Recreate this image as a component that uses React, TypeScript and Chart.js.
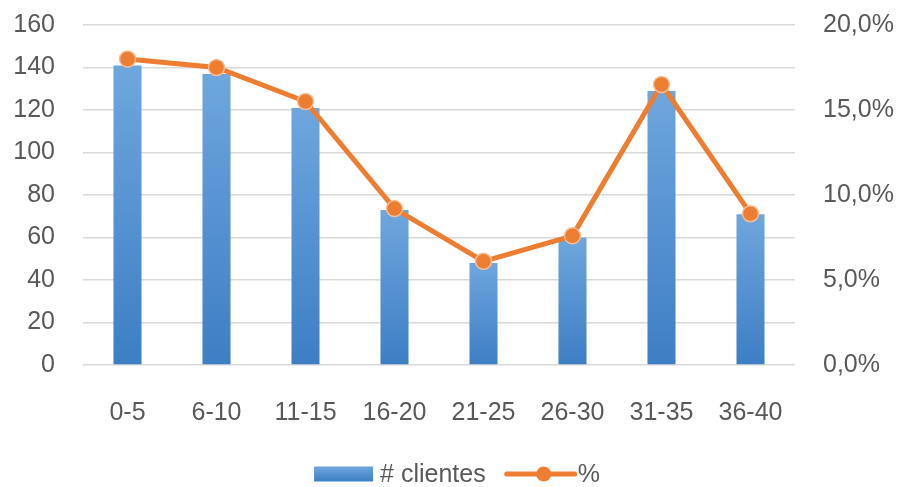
import React, { useEffect, useRef } from "react";
import { Chart, registerables } from "chart.js";

Chart.register(...registerables);

const categories = ["0-5", "6-10", "11-15", "16-20", "21-25", "26-30", "31-35", "36-40"];
const clientes = [141, 137, 121, 73, 48, 60, 129, 71];
const porcentaje = [18.0, 17.5, 15.5, 9.2, 6.1, 7.6, 16.5, 8.9];
const barLabel = "# clientes";
const lineLabel = "%";

const FONT = '"Liberation Sans", Arial, sans-serif';
const TEXT = "#595959";
const ORANGE = "#ED7D31";
const BLUE_TOP = "#6FA6DD";
const BLUE_BOTTOM = "#3D7EC4";
const FONT_SIZE = 25;

const legendPlugin = {
  id: "customLegend",
  afterDraw(chart: any) {
    const ctx = chart.ctx as CanvasRenderingContext2D;
    const area = chart.chartArea;
    ctx.save();
    ctx.font = `${FONT_SIZE}px ${FONT}`;
    const w1 = ctx.measureText(barLabel).width;
    const w2 = ctx.measureText(lineLabel).width;
    const boxW = 59, boxH = 15, lineW = 68;
    const total = boxW + 7 + w1 + 21 + lineW + 3 + w2;
    let x = (area.left + area.right) / 2 + 18 - total / 2;
    const y = chart.height - 13;
    const g = ctx.createLinearGradient(0, y - boxH / 2, 0, y + boxH / 2);
    g.addColorStop(0, BLUE_TOP);
    g.addColorStop(1, BLUE_BOTTOM);
    ctx.fillStyle = g;
    ctx.fillRect(x, y - boxH / 2, boxW, boxH);
    x += boxW + 7;
    ctx.fillStyle = TEXT;
    ctx.textBaseline = "middle";
    ctx.textAlign = "left";
    ctx.fillText(barLabel, x, y + 1);
    x += w1 + 21;
    ctx.strokeStyle = ORANGE;
    ctx.lineWidth = 5;
    ctx.lineCap = "round";
    ctx.beginPath();
    ctx.moveTo(x, y);
    ctx.lineTo(x + lineW, y);
    ctx.stroke();
    ctx.beginPath();
    ctx.arc(x + lineW / 2 + 3, y, 7.5, 0, Math.PI * 2);
    ctx.fillStyle = ORANGE;
    ctx.fill();
    x += lineW + 3;
    ctx.fillStyle = TEXT;
    ctx.fillText(lineLabel, x, y + 1);
    ctx.restore();
  },
};

export default function App() {
  const ref = useRef<HTMLCanvasElement | null>(null);

  useEffect(() => {
    document.body.style.margin = "0";
    if (!ref.current) return;
    const chart = new Chart(ref.current, {
      type: "bar",
      data: {
        labels: categories,
        datasets: [
          {
            type: "line",
            label: lineLabel,
            data: porcentaje,
            yAxisID: "y1",
            borderColor: ORANGE,
            borderWidth: 5,
            pointRadius: 8,
            pointBackgroundColor: ORANGE,
            pointBorderColor: "#F6BE98",
            pointBorderWidth: 1.5,
            tension: 0,
            order: 0,
          } as any,
          {
            type: "bar",
            label: barLabel,
            data: clientes,
            yAxisID: "y",
            backgroundColor: (c: any) => {
              const chart = c.chart;
              const area = chart.chartArea;
              if (!area || c.raw == null) return BLUE_BOTTOM;
              const top = chart.scales.y.getPixelForValue(c.raw);
              const g = chart.ctx.createLinearGradient(0, top, 0, area.bottom);
              g.addColorStop(0, BLUE_TOP);
              g.addColorStop(1, BLUE_BOTTOM);
              return g;
            },
            borderWidth: 0,
            categoryPercentage: 1,
            barPercentage: 0.315,
            order: 1,
          },
        ],
      },
      options: {
        responsive: false,
        animation: false,
        layout: { padding: { top: 25, bottom: 0, left: 0, right: 0 } },
        plugins: {
          legend: { display: false },
          tooltip: { enabled: false },
        },
        scales: {
          x: {
            grid: { display: false },
            border: { display: false },
            ticks: {
              color: TEXT,
              font: { family: FONT, size: FONT_SIZE },
              padding: 25,
              maxRotation: 0,
            },
            afterFit: (s: any) => {
              s.height = 122;
            },
          },
          y: {
            position: "left",
            min: 0,
            max: 160,
            grid: { color: "#D9D9D9", lineWidth: 1.5, drawTicks: false },
            border: { display: false },
            ticks: {
              stepSize: 20,
              color: TEXT,
              font: { family: FONT, size: FONT_SIZE },
              padding: 28,
            },
            afterFit: (s: any) => {
              s.width = 83;
              s.paddingTop = 0;
              s.paddingBottom = 0;
            },
          },
          y1: {
            position: "right",
            min: 0,
            max: 20,
            grid: { display: false, drawTicks: false },
            border: { display: false },
            ticks: {
              stepSize: 5,
              color: TEXT,
              font: { family: FONT, size: FONT_SIZE },
              padding: 28,
              callback: (v: any) => Number(v).toFixed(1).replace(".", ",") + "%",
            },
            afterFit: (s: any) => {
              s.width = 104;
              s.paddingTop = 0;
              s.paddingBottom = 0;
            },
          },
        },
      },
      plugins: [legendPlugin],
    });
    return () => chart.destroy();
  }, []);

  return (
    <div style={{ width: 899, height: 487, background: "#fff" }}>
      <canvas ref={ref} width={899} height={487} />
    </div>
  );
}
